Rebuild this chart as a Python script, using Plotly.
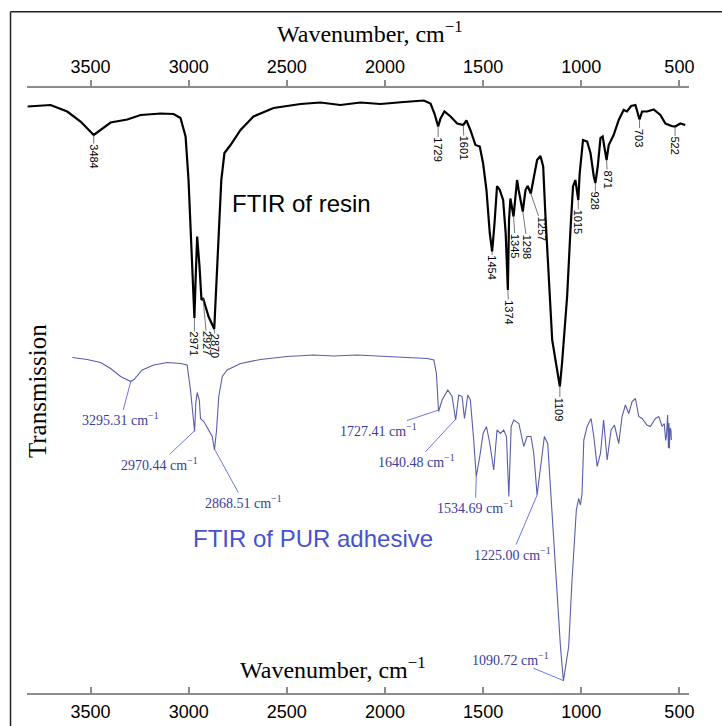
import numpy as np
import plotly.graph_objects as go

# ---- FTIR spectrum of the resin (wavenumber in cm-1, transmission in a.u., offset upwards) ----
resin_wn = [3821, 3704, 3619, 3551, 3484, 3449, 3398, 3313, 3245, 3143, 3077, 3042, 3016, 3001,
            2987, 2971, 2965, 2957, 2945, 2935, 2927, 2899, 2870, 2858, 2848, 2834, 2818, 2787,
            2736, 2670, 2568, 2430, 2329, 2227, 2125, 2023, 1904, 1802, 1768, 1748, 1729, 1717,
            1697, 1666, 1632, 1601, 1585, 1565, 1539, 1517, 1500, 1483, 1466, 1454, 1442, 1429,
            1415, 1398, 1385, 1380, 1374, 1368, 1361, 1345, 1336, 1327, 1319, 1298, 1284, 1273,
            1257, 1242, 1225, 1208, 1194, 1183, 1166, 1148, 1123, 1109, 1098, 1072, 1055, 1042,
            1030, 1015, 1008, 991, 970, 953, 936, 928, 916, 902, 891, 880, 871, 860, 835, 809,
            784, 767, 746, 724, 712, 703, 690, 665, 631, 597, 571, 540, 522, 495, 470]
resin_t = [117.3, 117.6, 116.3, 114.3, 111.6, 112.6, 114.1, 114.7, 115.6, 115.9, 115.8, 115.0, 111.3, 102.6,
           89.3, 75.0, 82.6, 91.3, 85.3, 78.6, 79.0, 75.3, 72.8, 82.6, 92.6, 102.6, 108.0, 109.6,
           112.6, 115.3, 117.0, 117.8, 118.1, 117.6, 118.1, 117.8, 118.2, 118.5, 117.9, 115.9, 113.3, 114.9,
           116.3, 115.3, 113.9, 113.6, 114.5, 112.6, 109.6, 109.3, 105.9, 100.6, 91.9, 88.3, 93.9, 101.4,
           100.6, 98.6, 91.9, 86.0, 80.6, 94.6, 98.9, 95.3, 99.3, 102.6, 100.6, 96.3, 100.6, 101.4,
           99.9, 103.3, 106.6, 107.4, 105.3, 95.9, 82.6, 70.6, 64.6, 61.3, 65.9, 79.3, 92.6, 101.3,
           102.6, 98.6, 103.9, 110.6, 110.3, 108.0, 103.3, 102.0, 105.3, 111.0, 111.3, 108.6, 106.6, 109.6, 111.6, 114.6,
           116.6, 116.3, 117.4, 117.6, 115.9, 114.7, 116.3, 116.3, 116.7, 115.6, 113.9, 113.4, 113.3, 113.9, 113.6]

# ---- FTIR spectrum of the PUR adhesive ----
pur_wn = [3593, 3517, 3449, 3398, 3347, 3295, 3279, 3237, 3178, 3109, 3042, 3008, 2991, 2977,
          2970, 2964, 2957, 2946, 2940, 2923, 2897, 2880, 2869, 2858, 2847, 2829, 2804, 2736,
          2634, 2498, 2363, 2261, 2142, 1955, 1785, 1751, 1738, 1727, 1709, 1680, 1658, 1640,
          1624, 1607, 1595, 1578, 1565, 1548, 1535, 1517, 1500, 1483, 1466, 1446, 1429, 1412,
          1395, 1381, 1369, 1357, 1344, 1318, 1293, 1276, 1256, 1242, 1225, 1205, 1188, 1171,
          1148, 1123, 1106, 1091, 1064, 1047, 1025, 1013, 1004, 996, 987, 970, 950, 936, 919,
          902, 886, 868, 848, 831, 809, 792, 775, 758, 741, 724, 707, 690, 665, 648, 622, 605,
          588, 577, 570, 566, 563, 560, 556, 553, 551, 547, 543, 541]
pur_t = [67.1, 66.7, 66.1, 64.9, 63.3, 62.3, 62.7, 64.6, 65.6, 66.1, 65.9, 65.6, 60.6, 54.6,
         52.3, 57.9, 60.1, 58.6, 54.9, 54.3, 52.6, 51.3, 48.6, 52.6, 59.3, 63.3, 64.6, 65.9,
         66.7, 67.3, 67.6, 67.4, 67.6, 67.3, 66.9, 66.6, 63.9, 56.3, 58.6, 60.6, 59.3, 54.6,
         59.6, 59.3, 54.9, 59.6, 58.6, 50.6, 43.3, 47.3, 51.9, 53.3, 49.9, 44.6, 52.6, 51.9,
         52.6, 51.3, 39.3, 53.3, 54.6, 53.9, 49.3, 51.3, 51.3, 47.9, 39.6, 45.9, 51.3, 49.9,
         35.3, 20.6, 9.3, 2.4, 9.3, 22.6, 36.6, 38.9, 37.6, 39.9, 50.6, 53.3, 54.9, 51.3, 45.3,
         47.9, 54.6, 46.6, 52.6, 53.6, 49.9, 55.3, 57.6, 55.9, 58.3, 58.9, 55.3, 54.9, 53.6, 53.3, 54.9, 55.3,
         53.3, 53.9, 50.5, 51.3, 55.0, 55.6, 49.0, 54.0, 48.9, 53.0, 52.6, 50.6]

# peak labels
resin_peaks = [3484, 2971, 2927, 2870, 1729, 1601, 1454, 1374, 1345, 1298, 1257, 1109, 1015, 928, 871, 703, 522]
pur_peaks = [3295.31, 2970.44, 2868.51, 1727.41, 1640.48, 1534.69, 1225.00, 1090.72]

tick_vals = [3500, 3000, 2500, 2000, 1500, 1000, 500]

# label offsets (pixels) from each peak to its text
resin_off = [(0, 21), (0, 26), (4, 45), (1, 17), (0, 23), (1, 23), (0, 16), (1, 22), (2, 29),
             (5, 35), (12, 35), (0, 23), (0, 22), (0, 18), (1, 19), (0, 18), (0, 19)]
pur_off = [(-10, 38), (-35, 33), (29, 53), (-60, 20), (-39, 42), (-1, 31), (-25, 59), (-53, -22)]

SANS = "Liberation Sans, Arial, sans-serif"
SERIF = "Liberation Serif, Times New Roman, serif"
AXIS_GREY = "#8c8c8c"
BLUE_TXT = "#393d9e"
BLUE_LINE = "#5a66e6"


def value_at(wn_list, t_list, w):
    return float(np.interp(w, wn_list[::-1], t_list[::-1]))


fig = go.Figure()
fig.add_trace(go.Scatter(x=pur_wn, y=pur_t, mode="lines",
                         line=dict(color="#5a5ea8", width=1.1), hoverinfo="skip"))
fig.add_trace(go.Scatter(x=resin_wn, y=resin_t, mode="lines", xaxis="x2",
                         line=dict(color="black", width=2.2), hoverinfo="skip"))

annotations = []
for w, (dx, dy) in zip(resin_peaks, resin_off):
    annotations.append(dict(
        x=w, y=value_at(resin_wn, resin_t, w), xref="x", yref="y",
        text=str(w), textangle=90, font=dict(family=SANS, size=11, color="black"),
        showarrow=True, arrowhead=0, arrowwidth=0.8, arrowcolor="#555555",
        ax=dx, ay=dy, standoff=0, borderpad=0))

for w, (dx, dy) in zip(pur_peaks, pur_off):
    annotations.append(dict(
        x=w, y=value_at(pur_wn, pur_t, w), xref="x", yref="y",
        text=f"{w:.2f} cm<sup>−1</sup>", font=dict(family=SERIF, size=14, color=BLUE_TXT),
        showarrow=True, arrowhead=0, arrowwidth=0.9, arrowcolor=BLUE_LINE,
        ax=dx, ay=dy, standoff=0, borderpad=0))

annotations += [
    dict(x=2425, y=98, xref="x", yref="y", text="FTIR of resin", showarrow=False,
         xanchor="center", yanchor="middle",
         font=dict(family=SANS, size=24, color="black")),
    dict(x=2369, y=31, xref="x", yref="y", text="FTIR of PUR adhesive", showarrow=False,
         xanchor="center", yanchor="middle",
         font=dict(family=SANS, size=24, color="#4652d0")),
    dict(x=0.518, y=1.092, xref="paper", yref="paper", text="Wavenumber, cm<sup>−1</sup>",
         xanchor="center", yanchor="middle",
         showarrow=False, font=dict(family=SERIF, size=24, color="black")),
    dict(x=0.462, y=0.041, xref="paper", yref="paper", text="Wavenumber, cm<sup>−1</sup>",
         xanchor="center", yanchor="middle",
         showarrow=False, font=dict(family=SERIF, size=24, color="black")),
    dict(x=0.0151, y=0.499, xref="paper", yref="paper", text="Transmission", textangle=-90,
         xanchor="center", yanchor="middle",
         showarrow=False, font=dict(family=SERIF, size=25, color="black")),
]

axis_style = dict(
    range=[3824, 451], tickmode="array", tickvals=tick_vals,
    ticklen=6, tickwidth=1.5, tickcolor=AXIS_GREY,
    showline=True, linecolor=AXIS_GREY, linewidth=2,
    showgrid=False, zeroline=False, automargin=False,
    tickfont=dict(family=SANS, size=18, color="black"),
)

fig.update_layout(
    width=722, height=726,
    margin=dict(l=27, r=33, t=88, b=33),
    paper_bgcolor="white", plot_bgcolor="white",
    showlegend=False,
    xaxis=dict(**axis_style, side="bottom", ticks="inside", ticklabelstandoff=1),
    xaxis2=dict(**axis_style, side="top", ticks="outside", overlaying="x", matches="x"),
    yaxis=dict(range=[0, 121], visible=False, automargin=False),
    annotations=annotations,
    shapes=[
        dict(type="line", xref="paper", yref="paper", x0=-0.0249, x1=1.06, y0=1.1261, y1=1.1261,
             line=dict(color="#222222", width=1.5)),
        dict(type="line", xref="paper", yref="paper", x0=-0.0249, x1=-0.0249, y0=1.1261, y1=-0.07,
             line=dict(color="#222222", width=1.5)),
    ],
)

fig.write_html("out.html")
